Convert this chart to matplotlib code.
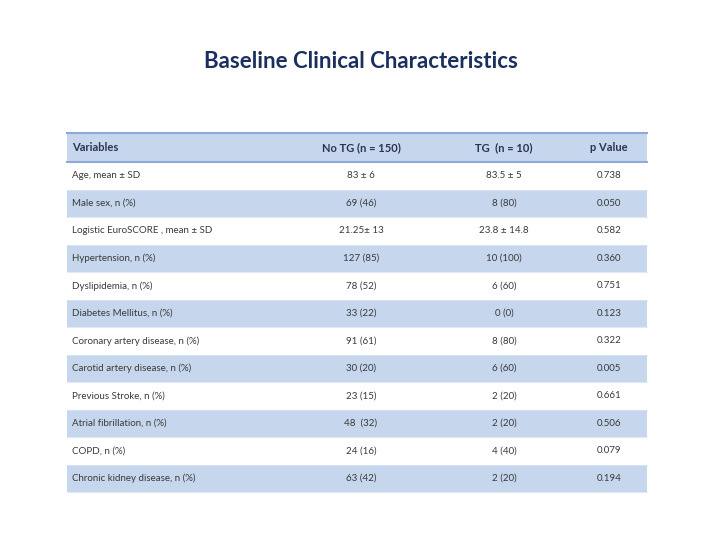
import matplotlib.pyplot as plt
from matplotlib.patches import Rectangle

# table content
title = 'Baseline Clinical Characteristics'
columns = ['Variables', 'No TG (n = 150)', 'TG  (n = 10)', 'p Value']
variables = ['Age, mean \u00b1 SD', 'Male sex, n (%)', 'Logistic EuroSCORE , mean \u00b1 SD',
             'Hypertension, n (%)', 'Dyslipidemia, n (%)', 'Diabetes Mellitus, n (%)',
             'Coronary artery disease, n (%)', 'Carotid artery disease, n (%)',
             'Previous Stroke, n (%)', 'Atrial fibrillation, n (%)', 'COPD, n (%)',
             'Chronic kidney disease, n (%)']
no_tg = ['83 \u00b1 6', '69 (46)', '21.25\u00b1 13', '127 (85)', '78 (52)', '33 (22)',
         '91 (61)', '30 (20)', '23 (15)', '48  (32)', '24 (16)', '63 (42)']
tg = ['83.5 \u00b1 5', '8 (80)', '23.8 \u00b1 14.8', '10 (100)', '6 (60)', '0 (0)',
      '8 (80)', '6 (60)', '2 (20)', '2 (20)', '4 (40)', '2 (20)']
p_value = ['0.738', '0.050', '0.582', '0.360', '0.751', '0.123',
           '0.322', '0.005', '0.661', '0.506', '0.079', '0.194']

plt.rcParams['font.family'] = ['Lato', 'DejaVu Sans']

blue = '#c6d6ec'
line = '#8eaadb'
txt = '#3a3a3a'
navy = '#1b2f5e'

fig = plt.figure(figsize=(7.2, 5.4), dpi=100)
ax = fig.add_axes([0, 0, 1, 1])
ax.set_xlim(0, 720)
ax.set_ylim(540, 0)
ax.axis('off')

left, right = 67, 647
head_top, head_bot = 133, 162
row_h = (492 - 162) / len(variables)
col_x = [72, 361, 504, 609]

ax.text(361, 62, title, ha='center', va='center', fontsize=16,
        fontweight='bold', color=navy)

# header
ax.add_patch(Rectangle((left, head_top), right - left, head_bot - head_top,
                       facecolor=blue, edgecolor='none'))
ax.plot([left, right], [head_top, head_top], color=line, lw=1.5)
ax.plot([left, right], [head_bot, head_bot], color=line, lw=1.5)
for i, c in enumerate(columns):
    ax.text(col_x[i], (head_top + head_bot) / 2, c, ha='left' if i == 0 else 'center',
            va='center', fontsize=8, fontweight='bold', color='#2a3450')

# body rows
for r, var in enumerate(variables):
    y0 = head_bot + r * row_h
    if r % 2 == 1:
        ax.add_patch(Rectangle((left, y0), right - left, row_h,
                               facecolor=blue, edgecolor='none'))
    ax.plot([left, right], [y0 + row_h, y0 + row_h], color='#dbe5f3', lw=0.6)
    yc = y0 + row_h / 2
    ax.text(col_x[0], yc, var, ha='left', va='center', fontsize=7, color=txt)
    ax.text(col_x[1], yc, no_tg[r], ha='center', va='center', fontsize=7, color=txt)
    ax.text(col_x[2], yc, tg[r], ha='center', va='center', fontsize=7, color=txt)
    ax.text(col_x[3], yc, p_value[r], ha='center', va='center', fontsize=7, color=txt)

fig.savefig('out.png', dpi=100)
